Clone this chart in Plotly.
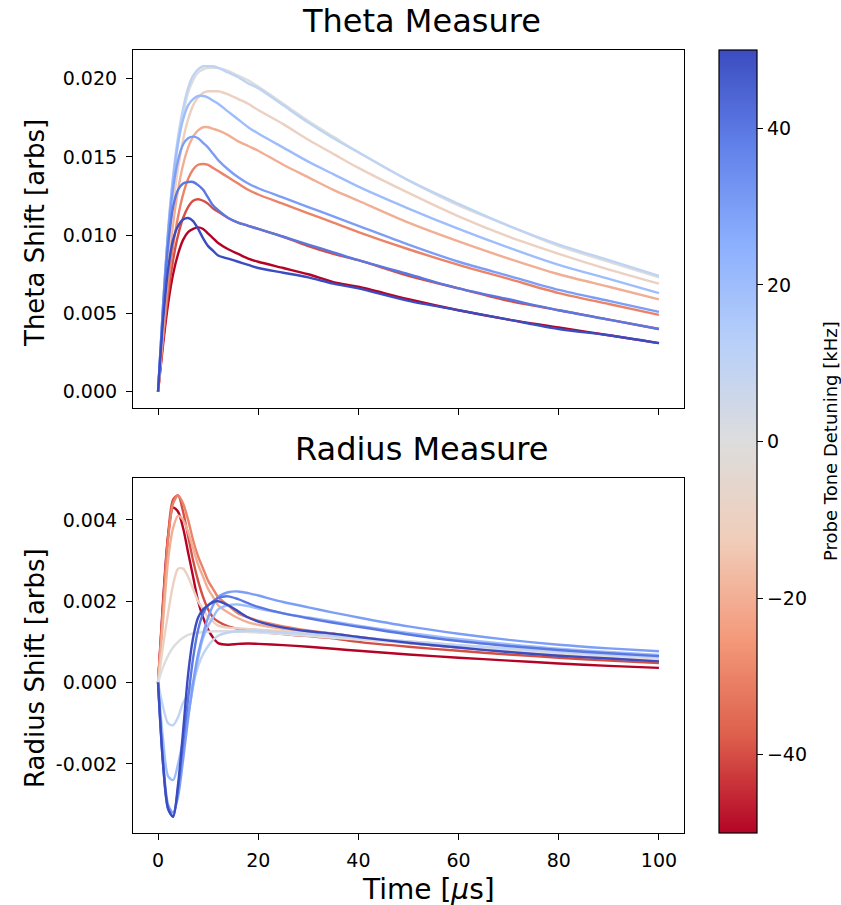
import plotly.graph_objects as go
from plotly.colors import sample_colorscale

# ---------------- data ----------------
time_us = [0, 1, 2, 3, 4, 5, 6, 7, 8, 9, 10, 11, 12, 14, 16, 18, 20, 25, 30, 35, 40, 50, 60, 70, 80, 90, 100]
detunings_khz = [-50, -40, -30, -20, -10, 0, 10, 20, 30, 40, 50]

theta_m50 = [0, .0030, .0056, .0075, .0088, .0097, .0102, .0104, .0105, .0104, .0101, .0098, .0095, .0091, .0088, .0085, .0083, .0079, .0075, .0070, .0067, .0059, .0052, .0046, .0041, .0036, .0031]
theta_m40 = [0, .0033, .0062, .0084, .0100, .0111, .0118, .0122, .0123, .0122, .0120, .0117, .0115, .0111, .0108, .0106, .0104, .0099, .0093, .0088, .0084, .0074, .0066, .0058, .0052, .0046, .0040]
theta_m30 = [0, .0035, .0068, .0093, .0112, .0126, .0136, .0142, .0145, .01455, .0145, .0143, .0141, .0137, .0133, .0129, .0126, .0120, .0114, .0108, .0102, .0091, .0081, .0072, .0063, .0056, .0049]
theta_m20 = [0, .0040, .0078, .0107, .0129, .0145, .0156, .0163, .0167, .0169, .0169, .0168, .0167, .0164, .0160, .0157, .0154, .0145, .0137, .0129, .0122, .0108, .0096, .0085, .0075, .0067, .0059]
theta_m10 = [0, .0045, .0087, .0119, .0143, .0161, .0174, .0183, .0188, .0191, .0192, .0192, .0192, .0190, .0187, .0184, .0180, .0171, .0161, .0152, .0143, .0127, .0112, .0099, .0088, .0078, .0069]
theta_0 = [0, .0052, .0098, .0132, .0158, .0177, .0191, .0199, .0204, .0206, .0207, .0207, .0207, .0205, .0202, .0199, .0195, .0184, .0173, .0163, .0153, .0135, .0119, .0106, .0093, .0083, .0073]
theta_p10 = [0, .0055, .0103, .0138, .0163, .0181, .0194, .0202, .0206, .0208, .0208, .0208, .0207, .0204, .0201, .0197, .0194, .0183, .0172, .0162, .0153, .0135, .0120, .0106, .0094, .0084, .0074]
theta_p20 = [0, .0055, .0102, .0136, .0159, .0174, .0183, .0187, .0189, .0189, .0188, .0186, .0184, .0179, .0174, .0169, .0165, .0156, .0147, .0139, .0131, .0117, .0104, .0092, .0081, .0072, .0063]
theta_p30 = [0, .0055, .0100, .0130, .0148, .0158, .0162, .0163, .0162, .0159, .0156, .0152, .0148, .0142, .0137, .0133, .0130, .0124, .0118, .0112, .0106, .0094, .0083, .0074, .0065, .0058, .0051]
theta_p40 = [0, .0052, .0093, .0118, .0129, .0133, .0134, .0134, .0132, .0129, .0124, .0119, .0116, .0111, .0108, .0106, .0104, .0099, .0094, .0089, .0084, .0075, .0066, .0059, .0052, .0046, .0040]
theta_p50 = [0, .0045, .0078, .0097, .0106, .0110, .0111, .0109, .0104, .0098, .0093, .0090, .0087, .0085, .0083, .0081, .0079, .0076, .0073, .0069, .0066, .0058, .0052, .0046, .0040, .0036, .0031]

radius_m50 = [0, .0020, .0036, .0043, .0042, .0038, .0032, .0026, .0020, .0016, .0013, .0011, .00097, .00093, .00095, .00096, .00095, .00092, .00088, .00083, .00078, .00069, .00061, .00054, .00047, .00041, .00036]
radius_m40 = [0, .0019, .0036, .0045, .0046, .0042, .0036, .0030, .0025, .0021, .0018, .0016, .0015, .00138, .00132, .00128, .00125, .00119, .00114, .00109, .00100, .00088, .00078, .00069, .00061, .00054, .00048]
radius_m30 = [0, .0018, .0035, .0044, .0046, .0044, .0040, .0035, .0031, .0028, .0025, .0023, .0021, .0019, .0017, .0016, .00152, .00138, .00128, .00120, .00112, .00098, .00086, .00076, .00067, .00059, .00052]
radius_m20 = [0, .0015, .0030, .0038, .0041, .0040, .0037, .0033, .0029, .0026, .0023, .0021, .0019, .00172, .00158, .00148, .00142, .00132, .00124, .00117, .00110, .00097, .00086, .00077, .00068, .00061, .00055]
radius_m10 = [0, .0009, .0017, .0024, .0028, .0028, .0026, .0023, .0020, .0018, .0016, .0015, .0014, .00135, .00133, .00132, .00130, .00126, .00121, .00116, .00111, .00101, .00092, .00083, .00075, .00068, .00061]
radius_0 = [0, .00038, .00066, .00086, .00100, .00110, .00117, .00121, .00123, .00124, .00125, .00126, .00126, .00126, .00125, .00124, .00123, .00119, .00115, .00110, .00106, .00097, .00088, .00080, .00072, .00065, .00058]
radius_p10 = [0, -.0006, -.0010, -.00105, -.00085, -.0005, -.0003, .0000, .0004, .0007, .0009, .00105, .00115, .00123, .00126, .00127, .00126, .00123, .00119, .00114, .00110, .00101, .00092, .00084, .00076, .00069, .00062]
radius_p20 = [0, -.0014, -.0023, -.0024, -.0020, -.0014, -.0008, -.0001, .0006, .0011, .0014, .0016, .0018, .0019, .00192, .00188, .00182, .00170, .00160, .00150, .00140, .00122, .00107, .00094, .00083, .00075, .00068]
radius_p30 = [0, -.0019, -.0030, -.0032, -.0028, -.0019, -.0009, .0000, .0007, .0012, .0016, .0019, .0021, .00222, .00224, .00220, .00214, .00198, .00185, .00172, .00160, .00138, .00120, .00105, .00093, .00084, .00077]
radius_p40 = [0, -.0020, -.0031, -.0033, -.0026, -.0015, -.0004, .0006, .0013, .0017, .0019, .0020, .00208, .00212, .00205, .00195, .00186, .00170, .00158, .00147, .00137, .00118, .00102, .00090, .00080, .00072, .00065]
radius_p50 = [0, -.0020, -.0031, -.0033, -.0025, -.0012, .0002, .0011, .0016, .0018, .0019, .00198, .0020, .00190, .00175, .00160, .00150, .00135, .00126, .00120, .00112, .00098, .00086, .00075, .00066, .00059, .00052]

theta_series = [theta_m50, theta_m40, theta_m30, theta_m20, theta_m10, theta_0,
                theta_p10, theta_p20, theta_p30, theta_p40, theta_p50]
radius_series = [radius_m50, radius_m40, radius_m30, radius_m20, radius_m10, radius_0,
                 radius_p10, radius_p20, radius_p30, radius_p40, radius_p50]

x_ticks = [0, 20, 40, 60, 80, 100]
theta_ticks = [0.000, 0.005, 0.010, 0.015, 0.020]
theta_ticktext = ["0.000", "0.005", "0.010", "0.015", "0.020"]
radius_ticks = [-0.002, 0.000, 0.002, 0.004]
radius_ticktext = ["-0.002", "0.000", "0.002", "0.004"]
cbar_ticks = [-40, -20, 0, 20, 40]
cbar_ticktext = ["\u221240", "\u221220", "0", "20", "40"]

# coolwarm reversed (red = negative detuning, blue = positive)
coolwarm_r = [
    [0.000, "rgb(180,4,38)"],
    [0.125, "rgb(221,96,76)"],
    [0.250, "rgb(244,154,123)"],
    [0.375, "rgb(240,205,186)"],
    [0.500, "rgb(221,221,221)"],
    [0.625, "rgb(184,208,249)"],
    [0.750, "rgb(141,176,254)"],
    [0.875, "rgb(98,130,234)"],
    [1.000, "rgb(59,76,192)"],
]
CMIN, CMAX = -50, 50

FONT = "DejaVu Sans"

fig = go.Figure()

for d, th, rd in zip(detunings_khz, theta_series, radius_series):
    col = sample_colorscale(coolwarm_r, [(d - CMIN) / (CMAX - CMIN)])[0]
    fig.add_trace(go.Scatter(x=time_us, y=th, mode="lines",
                             line=dict(color=col, width=2.4, shape="spline", smoothing=0.8),
                             xaxis="x", yaxis="y", showlegend=False, hoverinfo="skip"))
    fig.add_trace(go.Scatter(x=time_us, y=rd, mode="lines",
                             line=dict(color=col, width=2.4, shape="spline", smoothing=0.8),
                             xaxis="x2", yaxis="y2", showlegend=False, hoverinfo="skip"))

# colour bar carrier
fig.add_trace(go.Scatter(
    x=[0], y=[0], mode="markers", xaxis="x2", yaxis="y2", showlegend=False, hoverinfo="skip",
    marker=dict(size=0.1, opacity=0, color=[0], colorscale=coolwarm_r, cmin=CMIN, cmax=CMAX,
                showscale=True,
                colorbar=dict(
                    x=1.0635, xanchor="left", xpad=0, y=0.5, yanchor="middle", ypad=0,
                    len=1, lenmode="fraction", thickness=38, thicknessmode="pixels",
                    outlinecolor="black", outlinewidth=1.2,
                    tickmode="array", tickvals=cbar_ticks, ticktext=cbar_ticktext,
                    ticks="outside", ticklen=6, tickwidth=1.2, tickcolor="black",
                    tickfont=dict(family=FONT, size=19, color="black"),
                ))))

axis_common = dict(showline=True, mirror=True, linecolor="black", linewidth=1.2,
                   ticks="outside", ticklen=6, tickwidth=1.2, tickcolor="black",
                   showgrid=False, zeroline=False,
                   tickfont=dict(family=FONT, size=19, color="black"))

fig.update_layout(
    width=841, height=905,
    margin=dict(l=133, r=157, t=50, b=72),
    paper_bgcolor="white", plot_bgcolor="white",
    xaxis=dict(domain=[0, 1], anchor="y", range=[-5, 105], tickvals=x_ticks,
               showticklabels=False, **axis_common),
    yaxis=dict(domain=[0.543, 1], anchor="x", range=[-0.00104, 0.02184],
               tickvals=theta_ticks, ticktext=theta_ticktext, ticklabelstandoff=5,
               **axis_common),
    xaxis2=dict(domain=[0, 1], anchor="y2", range=[-5, 105], tickvals=x_ticks,
                matches="x", ticklabelstandoff=4, **axis_common),
    yaxis2=dict(domain=[0, 0.4534], anchor="x2", range=[-0.0037, 0.00503],
                tickvals=radius_ticks, ticktext=radius_ticktext, ticklabelstandoff=5,
                **axis_common),
    annotations=[
        dict(text="Theta Measure", xref="paper", yref="paper", x=0.5227, y=1.0,
             xanchor="center", yanchor="bottom", yshift=8, showarrow=False,
             font=dict(family=FONT, size=32, color="black")),
        dict(text="Radius Measure", xref="paper", yref="paper", x=0.5227, y=0.4534,
             xanchor="center", yanchor="bottom", yshift=8, showarrow=False,
             font=dict(family=FONT, size=32, color="black")),
        dict(text="Theta Shift [arbs]", xref="paper", yref="paper", x=0, y=0.7663,
             xanchor="center", yanchor="middle", xshift=-98, textangle=-90, showarrow=False,
             font=dict(family=FONT, size=26, color="black")),
        dict(text="Radius Shift [arbs]", xref="paper", yref="paper", x=0, y=0.2107,
             xanchor="center", yanchor="middle", xshift=-98, textangle=-90, showarrow=False,
             font=dict(family=FONT, size=26, color="black")),
        dict(text="Time [<i>\u03bc</i>s]", xref="paper", yref="paper", x=0.537, y=0,
             xanchor="center", yanchor="top", yshift=-38, showarrow=False,
             font=dict(family=FONT, size=28, color="black")),
        dict(text="Probe Tone Detuning [kHz]", xref="paper", yref="paper", x=1.265, y=0.5006,
             xanchor="center", yanchor="middle", textangle=-90, showarrow=False,
             font=dict(family=FONT, size=18, color="black")),
    ],
)

fig.write_html("out.html")
